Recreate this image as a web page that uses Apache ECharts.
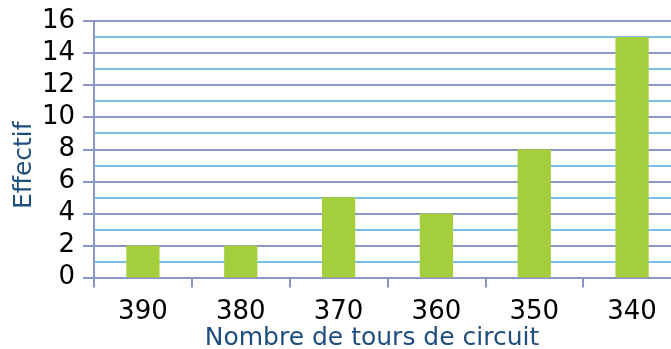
<!DOCTYPE html>
<html>
<head>
<meta charset="utf-8">
<script src="https://cdn.jsdelivr.net/npm/echarts@6/dist/echarts.min.js"></script>
<style>html,body{margin:0;padding:0;background:#fff}#c{width:671px;height:349px}</style>
</head>
<body>
<div id="c"></div>
<script>
const categories = ['390', '380', '370', '360', '350', '340'];
const effectif = [2, 2, 5, 4, 8, 15];
const yTicks = [0, 2, 4, 6, 8, 10, 12, 14, 16];
const xTitle = 'Nombre de tours de circuit';
const yTitle = 'Effectif';

const chart = echarts.init(document.getElementById('c'), null, {renderer: 'canvas'});
const major = '#8a96c9';
const minor = '#7cbfe8';
const titleColor = '#1f4e7d';
chart.setOption({
  animation: false,
  textStyle: {fontFamily: 'DejaVu Sans'},
  grid: {left: 94, top: 21, right: -10, bottom: 71.5, containLabel: false, outerBoundsMode: 'none'},
  xAxis: {
    type: 'category',
    data: categories,
    name: xTitle,
    nameLocation: 'middle',
    nameGap: 48,
    nameMoveOverlap: false,
    nameTextStyle: {color: titleColor, fontSize: 25, fontFamily: 'DejaVu Sans', padding: [0, 31, 0, 0]},
    axisLine: {show: true, lineStyle: {color: major, width: 2}},
    axisTick: {show: true, length: 10, lineStyle: {color: major, width: 2}},
    axisLabel: {color: '#000', fontSize: 26, margin: 22, fontFamily: 'DejaVu Sans'},
    splitLine: {show: false}
  },
  yAxis: {
    type: 'value',
    min: yTicks[0],
    max: yTicks[yTicks.length - 1],
    interval: 2,
    name: yTitle,
    nameLocation: 'middle',
    nameGap: 57,
    nameMoveOverlap: false,
    nameTextStyle: {color: titleColor, fontSize: 25, fontFamily: 'DejaVu Sans', padding: [0, 32, 0, 0]},
    axisLine: {show: true, lineStyle: {color: major, width: 2}},
    axisTick: {show: true, length: 11, lineStyle: {color: major, width: 2}},
    axisLabel: {color: '#000', fontSize: 26, margin: 19, fontFamily: 'DejaVu Sans'},
    splitLine: {show: true, lineStyle: {color: major, width: 2}},
    minorTick: {show: false, splitNumber: 2},
    minorSplitLine: {show: true, lineStyle: {color: minor, width: 2}}
  },
  series: [{
    type: 'bar',
    data: effectif,
    barWidth: '34%',
    itemStyle: {color: '#a4ce3c'}
  }]
});
</script>
</body>
</html>
